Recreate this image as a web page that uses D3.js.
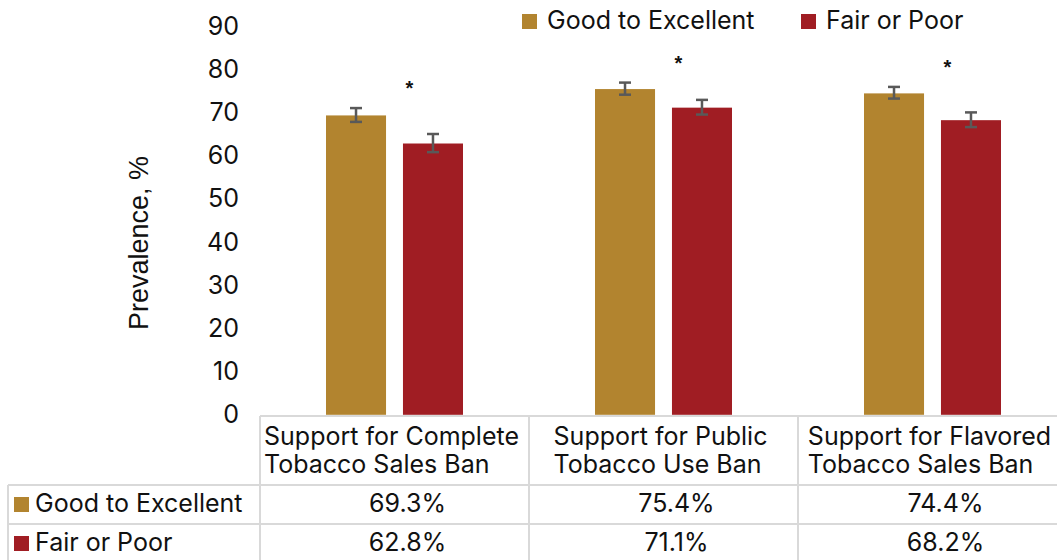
<!DOCTYPE html>
<html>
<head>
<meta charset="utf-8">
<script src="https://cdn.jsdelivr.net/npm/d3@7"></script>
<style>
  body { margin: 0; background: #fff; }
  svg { display: block; }
</style>
</head>
<body>
<svg id="chart" width="1057" height="560"></svg>
<script>
// Policy support by self-rated health status
const categories = [
  ["Support for Complete", "Tobacco Sales Ban"],
  ["Support for Public", "Tobacco Use Ban"],
  ["Support for Flavored", "Tobacco Sales Ban"]
];
const seriesNames = ["Good to Excellent", "Fair or Poor"];
const goodValues = [69.3, 75.4, 74.4];
const fairValues = [62.8, 71.1, 68.2];
const goodLower = [67.8, 74.1, 73.2];
const goodUpper = [71.0, 76.9, 75.9];
const fairLower = [60.8, 69.5, 66.6];
const fairUpper = [65.0, 72.9, 70.0];
const significant = [true, true, true];
const yTicks = [0, 10, 20, 30, 40, 50, 60, 70, 80, 90];
const yTitle = "Prevalence, %";

const seriesData = [
  { name: seriesNames[0], values: goodValues, lower: goodLower, upper: goodUpper },
  { name: seriesNames[1], values: fairValues, lower: fairLower, upper: fairUpper }
];

const font = "Inter, 'Noto Sans', sans-serif";
const textColor = "#111";
const gridColor = "#d9d9d9";
const svg = d3.select("#chart");

const color = d3.scaleOrdinal().domain(seriesNames).range(["#B2842F", "#A01D23"]);
const y = d3.scaleLinear().domain([0, 90]).range([414.8, 26]);
const x0 = d3.scaleBand().domain(d3.range(categories.length)).range([260, 1067]);
const x1 = d3.scaleBand().domain(seriesNames).range([66, 203]).paddingInner(0.22);

// Y axis (labels only)
const yAxis = svg.append("g")
  .attr("transform", "translate(245,0)")
  .call(d3.axisLeft(y).tickValues(yTicks).tickSize(0).tickPadding(6));
yAxis.select(".domain").remove();
yAxis.selectAll("text")
  .attr("font-family", font)
  .attr("font-size", 25)
  .attr("fill", textColor);

svg.append("text")
  .attr("transform", "translate(148,243) rotate(-90)")
  .attr("text-anchor", "middle")
  .attr("font-family", "'Liberation Sans', Arial, sans-serif")
  .attr("font-size", 27)
  .attr("fill", textColor)
  .text(yTitle);

// Bars
const groups = svg.append("g").selectAll("g")
  .data(categories)
  .join("g")
  .attr("transform", (d, i) => `translate(${x0(i)},0)`);

groups.each(function(cat, i) {
  const g = d3.select(this);
  seriesData.forEach(s => {
    const bx = x1(s.name);
    g.append("rect")
      .attr("x", bx)
      .attr("y", y(s.values[i]))
      .attr("width", x1.bandwidth())
      .attr("height", y(0) - y(s.values[i]))
      .attr("fill", color(s.name));
    const cx = bx + x1.bandwidth() / 2;
    const eb = g.append("g")
      .attr("stroke", "#595959")
      .attr("stroke-width", 2.5);
    eb.append("line").attr("x1", cx).attr("x2", cx)
      .attr("y1", y(s.upper[i])).attr("y2", y(s.lower[i]));
    eb.append("line").attr("x1", cx - 6).attr("x2", cx + 6)
      .attr("y1", y(s.upper[i])).attr("y2", y(s.upper[i]));
    eb.append("line").attr("x1", cx - 6).attr("x2", cx + 6)
      .attr("y1", y(s.lower[i])).attr("y2", y(s.lower[i]));
  });
  // Significance marker above the taller interval
  if (significant[i]) {
    const top = d3.max(seriesData, s => s.upper[i]);
    g.append("text")
      .attr("x", x0.bandwidth() / 2 + 15)
      .attr("y", y(top + 6) + 13)
      .attr("text-anchor", "middle")
      .attr("font-family", "'Liberation Sans', Arial, sans-serif")
      .attr("font-weight", "bold")
      .attr("font-size", 20)
      .attr("fill", textColor)
      .text("*");
  }
});

// Top legend
const legendItems = [{ x: 522 }, { x: 801 }];
seriesNames.forEach((name, k) => {
  const lg = svg.append("g").attr("transform", `translate(${legendItems[k].x},14)`);
  lg.append("rect").attr("width", 15).attr("height", 15).attr("fill", color(name));
  lg.append("text")
    .attr("x", 25).attr("y", 14.5)
    .attr("font-family", font).attr("font-size", 25).attr("fill", textColor)
    .text(name);
});

// Data table
const tableTop = 416, headerBottom = 485, rowH = 39;
const tableRight = x0.range()[1];
const rowTops = seriesNames.map((d, k) => headerBottom + k * rowH);
const tableBottom = headerBottom + seriesNames.length * rowH;
const grid = svg.append("g").attr("stroke", gridColor).attr("stroke-width", 2);
grid.append("line").attr("x1", x0.range()[0]).attr("x2", tableRight).attr("y1", tableTop).attr("y2", tableTop);
rowTops.concat([tableBottom]).forEach(ry => {
  grid.append("line").attr("x1", 8).attr("x2", tableRight).attr("y1", ry).attr("y2", ry);
});
grid.append("line").attr("x1", 8).attr("x2", 8).attr("y1", headerBottom).attr("y2", tableBottom);
d3.range(categories.length + 1).forEach(i => {
  const vx = i < categories.length ? x0(i) : tableRight;
  grid.append("line").attr("x1", vx).attr("x2", vx).attr("y1", tableTop).attr("y2", tableBottom);
});

// Header cells: wrapped lines, left aligned, block centred in column
categories.forEach((lines, i) => {
  const t = svg.append("text")
    .attr("font-family", font).attr("font-size", 25).attr("fill", textColor);
  lines.forEach((ln, j) => {
    t.append("tspan").attr("y", 445 + j * 28).text(ln);
  });
  let maxW = 0;
  t.selectAll("tspan").each(function() { maxW = Math.max(maxW, this.getComputedTextLength()); });
  const cx = x0(i) + x0.bandwidth() / 2 - 3;
  t.selectAll("tspan").attr("x", cx - maxW / 2);
});

// Row labels with keys and values
seriesData.forEach((s, k) => {
  const top = rowTops[k];
  svg.append("rect")
    .attr("x", 14).attr("y", top + 12).attr("width", 15).attr("height", 15)
    .attr("fill", color(s.name));
  svg.append("text")
    .attr("x", 35).attr("y", top + 27)
    .attr("font-family", font).attr("font-size", 25).attr("fill", textColor)
    .text(s.name);
  s.values.forEach((v, i) => {
    svg.append("text")
      .attr("x", x0(i) + x0.bandwidth() / 2 + 13)
      .attr("y", top + 27)
      .attr("text-anchor", "middle")
      .attr("font-family", font).attr("font-size", 25).attr("fill", textColor)
      .text(v.toFixed(1) + "%");
  });
});
</script>
</body>
</html>
